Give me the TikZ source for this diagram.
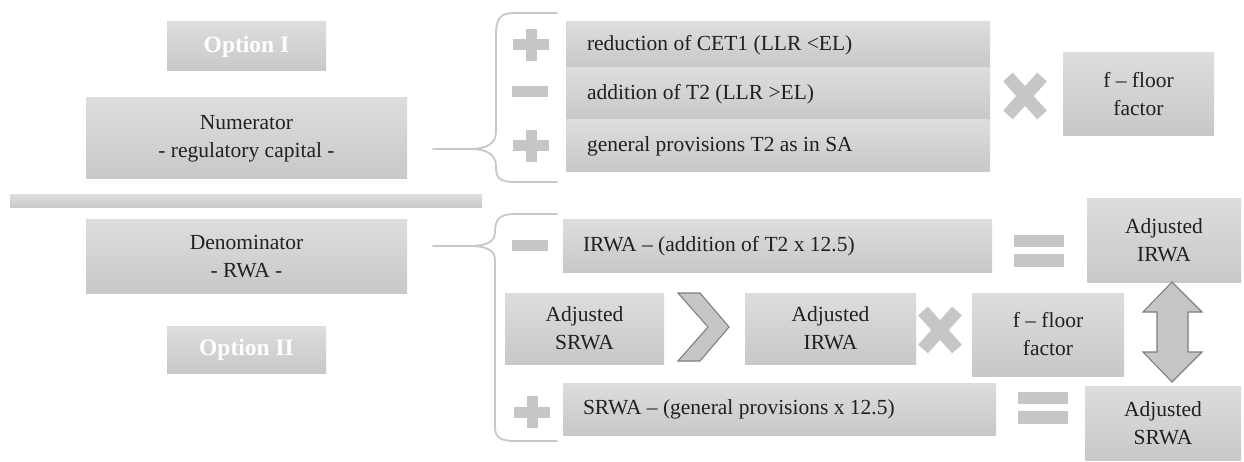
\documentclass[tikz,border=0pt]{standalone}
\usepackage{fontspec}
\setmainfont{Liberation Serif}
\definecolor{boxtop}{HTML}{DDDDDD}
\definecolor{boxbot}{HTML}{C8C8C8}
\definecolor{iconc}{HTML}{C5C6C8}
\definecolor{brc}{HTML}{C8C8C8}
\definecolor{txt}{HTML}{231F20}
\definecolor{arrfill}{HTML}{C6C6C6}
\definecolor{arrline}{HTML}{7F7F7F}
\begin{document}
\begin{tikzpicture}[x=1pt,y=-1pt,
  gbox/.style={top color=boxtop,bottom color=boxbot,draw=none,inner sep=0pt,
    text=txt,font=\fontsize{21.5}{28}\selectfont,align=center},
  optbox/.style={gbox,text=white,font=\fontsize{23.5}{28}\selectfont\bfseries},
  lbl/.style={text=txt,font=\fontsize{21.5}{28}\selectfont,inner sep=0pt,anchor=west},
  bracep/.style={draw=brc,line width=1.8pt,line cap=round,line join=round},
  arrshape/.style={fill=arrfill,draw=arrline,line width=1.1pt,line join=miter},
  pics/plussign/.style={code={\fill[iconc] (-18,-5.5) rectangle (18,5.5);
      \fill[iconc] (-5.5,-16) rectangle (5.5,16);}},
  pics/minussign/.style={code={\fill[iconc] (-18,-5.5) rectangle (18,5.5);}},
  pics/timessign/.style={code={\draw[iconc,line width=13pt] (-17,-19) -- (17,19);
      \draw[iconc,line width=13pt] (-17,19) -- (17,-19);}},
  pics/eqsign/.style={code={\fill[iconc] (-25,-16) rectangle (25,-3.5);
      \fill[iconc] (-25,3.5) rectangle (25,16);}}
]
\useasboundingbox (0,0) rectangle (1244,462);
\fill[white] (0,0) rectangle (1244,462);

% left column
\node[optbox,minimum width=159pt,minimum height=49pt] (optI) at (246.5,46.5) {Option I};
\node[gbox,minimum width=321pt,minimum height=81pt] (num) at (246.5,138.5) {Numerator\\- regulatory capital -};
\node[gbox,minimum width=472pt,minimum height=13pt] (bar) at (246,201.5) {};
\node[gbox,minimum width=321pt,minimum height=73pt] (den) at (246.5,256.5) {Denominator\\- RWA -};
\node[optbox,minimum width=159pt,minimum height=47pt] (optII) at (246.5,349.5) {Option II};

% upper brace
\coordinate (ub1) at (433,149);
\draw[bracep] (ub1) -- (470,149) .. controls (486,149) and (496,144) .. (496,132)
  -- (496,35) .. controls (496,18) and (500,13) .. (515,13) -- (557,13);
\draw[bracep] (470,149) .. controls (486,149) and (496,154) .. (496,166)
  -- (496,168) .. controls (496,178) and (500,182) .. (515,182) -- (557,182);

% upper rows
\node[gbox,minimum width=424pt,minimum height=46pt] (r1) at (778,45) {};
\node[gbox,minimum width=424pt,minimum height=52pt] (r2) at (778,94) {};
\node[gbox,minimum width=424pt,minimum height=52pt] (r3) at (778,146) {};
\node[lbl] (t1) at ([xshift=21pt]r1.west) {reduction of CET1 (LLR <EL)};
\node[lbl] (t2) at ([xshift=21pt]r2.west) {addition of T2 (LLR >EL)};
\node[lbl] (t3) at ([xshift=21pt]r3.west) {general provisions T2 as in SA};
\pic at (531,45) {plussign};
\pic at (530,92) {minussign};
\pic at (531,146) {plussign};
\pic at (1025,96) {timessign};
\node[gbox,minimum width=151pt,minimum height=83pt] (f1) at (1138.5,94.5) {f -- floor\\factor};

% lower brace
\coordinate (lb1) at (433,246);
\draw[bracep] (lb1) -- (470,246) .. controls (486,246) and (495,242) .. (495,232)
  .. controls (495,219) and (500,214) .. (515,214) -- (557,214);
\draw[bracep] (470,246) .. controls (486,246) and (495,250) .. (495,260)
  -- (495,427) .. controls (495,437) and (500,441) .. (515,441) -- (557,441);

% lower rows
\node[gbox,minimum width=429pt,minimum height=52pt] (irwa) at (777.5,246) {};
\node[lbl] (ti) at ([xshift=20pt]irwa.west) {IRWA -- (addition of T2 x 12.5)};
\pic at (530,245.5) {minussign};
\pic at (1039,251) {eqsign};
\node[gbox,minimum width=154pt,minimum height=83pt] (adjIR) at (1164,240.5) {Adjusted\\IRWA};

\node[gbox,minimum width=159pt,minimum height=71pt] (adjSM) at (584.5,328.5) {Adjusted\\SRWA};
\draw[arrshape] (678,293) -- (700,293) -- (729,327) -- (700,361) -- (678,361) -- (708,327) -- cycle;
\node[gbox,minimum width=171pt,minimum height=71pt] (adjIM) at (830.5,328.5) {Adjusted\\IRWA};
\pic at (940,330) {timessign};
\node[gbox,minimum width=152pt,minimum height=83pt] (f2) at (1048,334.5) {f -- floor\\factor};

\node[gbox,minimum width=433pt,minimum height=52pt] (srwa) at (779.5,409) {};
\node[lbl] (ts) at ([xshift=20pt]srwa.west) {SRWA -- (general provisions x 12.5)};
\pic at (532,412) {plussign};
\pic at (1043,407.5) {eqsign};
\node[gbox,minimum width=156pt,minimum height=74pt] (adjSR) at (1163,423) {Adjusted\\SRWA};

% double arrow
\draw[arrshape] (1172,282) -- (1202,312) -- (1188,312) -- (1188,352) -- (1202,352)
  -- (1172,382) -- (1143,352) -- (1157,352) -- (1157,312) -- (1143,312) -- cycle;
\end{tikzpicture}
\end{document}
